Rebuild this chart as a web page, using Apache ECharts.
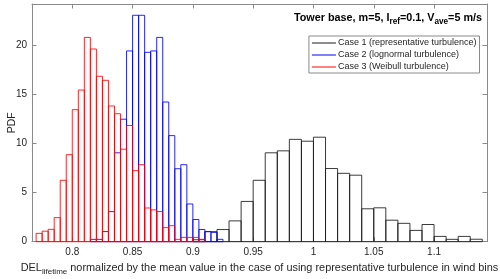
<!DOCTYPE html>
<html><head><meta charset="utf-8">
<script src="https://cdn.jsdelivr.net/npm/echarts@6/dist/echarts.min.js"></script>
<style>html,body{margin:0;padding:0;background:#fff}#c{width:500px;height:279px}</style>
</head><body><div id="c"></div>
<script>
// Case 1 (representative turbulence): bins of width 0.01 starting at 0.90
const case1Start = 0.90;
const case1Width = 0.01;
const case1Values = [0.2, 1.02, 1.24, 2.12, 4.1, 6.25, 9.05, 9.25, 10.42, 10.23, 10.64, 7.45, 6.96, 6.77, 3.35, 3.45, 2.19, 1.87, 1.15, 1.75, 0.54, 0.24, 0.54, 0.25];
// Case 2 (lognormal turbulence): bins of width 0.005 starting at 0.815
const case2Start = 0.815;
const case2Width = 0.005;
const case2Values = [0.24, 0.24, 1.03, 3.06, 9.05, 12.47, 19.42, 23.05, 23.05, 19.28, 19.42, 20.8, 14.22, 10.8, 7.43, 7.84, 3.84, 2.26, 1.24, 1.03, 0.95, 0.24];
// Case 3 (Weibull turbulence): bins of width 0.005 starting at 0.77
const case3Start = 0.77;
const case3Width = 0.005;
const case3Values = [0.85, 1.07, 1.26, 2.45, 6.25, 8.86, 13.44, 15.44, 20.8, 19.62, 16.84, 16.43, 13.82, 13.03, 9.42, 11.83, 7.23, 7.84, 3.43, 3.24, 3.07, 1.43, 1.63, 0.24, 0.44, 0.44, 0.44, 0.24];

const seriesNames = ['Case 1 (representative turbulence)', 'Case 2 (lognormal turbulence)', 'Case 3 (Weibull turbulence)'];
const seriesColors = ['#1a1a1a', '#0000ff', '#ff0000'];
const xTicks = [0.8, 0.85, 0.9, 0.95, 1, 1.05, 1.1];
const yTicks = [0, 5, 10, 15, 20];
const xMin = 0.7666, xMax = 1.1439, yMin = 0, yMax = 24.2;

function bins(start, width, values) {
  return values.map((v, i) => [
    +(start + i * width).toFixed(4),
    +(start + (i + 1) * width).toFixed(4),
    v
  ]);
}

const textColor = '#262626';
const axisColor = '#8a8a8a';

function makeSeries(idx, data) {
  return {
    type: 'custom',
    name: seriesNames[idx],
    color: seriesColors[idx],
    xAxisIndex: 0, yAxisIndex: 0,
    data: data,
    encode: { x: [0, 1], y: 2 },
    renderItem: function (params, api) {
      const p0 = api.coord([api.value(0), api.value(2)]);
      const p1 = api.coord([api.value(1), 0]);
      return {
        type: 'rect',
        shape: { x: p0[0], y: p0[1], width: p1[0] - p0[0], height: p1[1] - p0[1] },
        style: { fill: 'none', stroke: seriesColors[idx], lineWidth: 1, opacity: 0.85 }
      };
    }
  };
}

const chart = echarts.init(document.getElementById('c'), null, { renderer: 'canvas' });
const fmt = v => String(+(+v).toFixed(2));

chart.setOption({
  backgroundColor: '#fff',
  animation: false,
  textStyle: { fontFamily: 'Liberation Sans, Arial, sans-serif' },
  title: {
    text: '{t|Tower base, m=5, I}{s|ref}{t|=0.1, V}{s|ave}{t|=5 m/s}',
    right: 18, top: 10, padding: 0,
    textStyle: {
      rich: {
        t: { fontSize: 10.8, fontWeight: 'bold', color: '#000', fontFamily: 'Liberation Sans' },
        s: { fontSize: 8.2, fontWeight: 'bold', color: '#000', fontFamily: 'Liberation Sans', padding: [8, 0, 0, 0] }
      }
    }
  },
  legend: {
    data: seriesNames.map((n, i) => ({ name: n, icon: 'rect', itemStyle: { color: seriesColors[i] } })),
    orient: 'vertical',
    right: 20.5, top: 36,
    itemWidth: 24, itemHeight: 1,
    itemGap: 0,
    padding: [1, 3, 0, 3],
    backgroundColor: '#fff',
    borderColor: '#8a8a8a', borderWidth: 1, borderRadius: 0,
    selectedMode: false,
    textStyle: { fontSize: 9, color: textColor, lineHeight: 12, padding: [0, 0, 0, -3] }
  },
  grid: { left: 32, top: 4, width: 455, height: 237.7, containLabel: false, outerBoundsMode: 'none' },
  xAxis: [{
    type: 'value', min: xMin, max: xMax, position: 'bottom',
    name: '{a|DEL}{b|lifetime}{a| normalized by the mean value in the case of using representative turbulence in wind bins}',
    nameLocation: 'middle', nameGap: 18,
    nameTextStyle: {
      rich: {
        a: { fontSize: 10.9, color: textColor },
        b: { fontSize: 8, color: textColor, padding: [8, 0, 0, 0] }
      }
    },
    axisLine: { show: true, onZero: false, lineStyle: { color: axisColor } },
    axisTick: { show: true, inside: true, length: 4.5, customValues: xTicks, lineStyle: { color: axisColor } },
    axisLabel: { customValues: xTicks, formatter: fmt, fontSize: 10, color: textColor, margin: 6 },
    splitLine: { show: false }
  }, {
    type: 'value', min: xMin, max: xMax, position: 'top',
    axisLine: { show: true, onZero: false, lineStyle: { color: axisColor } },
    axisTick: { show: true, inside: true, length: 4.5, customValues: xTicks, lineStyle: { color: axisColor } },
    axisLabel: { show: false, customValues: xTicks },
    splitLine: { show: false }
  }],
  yAxis: [{
    type: 'value', min: yMin, max: yMax, position: 'left',
    name: 'PDF', nameLocation: 'middle', nameGap: 14, nameMoveOverlap: false,
    nameTextStyle: { fontSize: 10.5, color: textColor },
    axisLine: { show: true, onZero: false, lineStyle: { color: axisColor } },
    axisTick: { show: true, inside: true, length: 4.5, customValues: yTicks, lineStyle: { color: axisColor } },
    axisLabel: { customValues: yTicks, fontSize: 10, color: textColor, margin: 5 },
    splitLine: { show: false }
  }, {
    type: 'value', min: yMin, max: yMax, position: 'right',
    axisLine: { show: true, onZero: false, lineStyle: { color: axisColor } },
    axisTick: { show: true, inside: true, length: 4.5, customValues: yTicks, lineStyle: { color: axisColor } },
    axisLabel: { show: false, customValues: yTicks },
    splitLine: { show: false }
  }],
  series: [
    makeSeries(0, bins(case1Start, case1Width, case1Values)),
    makeSeries(1, bins(case2Start, case2Width, case2Values)),
    makeSeries(2, bins(case3Start, case3Width, case3Values))
  ]
});
</script></body></html>
